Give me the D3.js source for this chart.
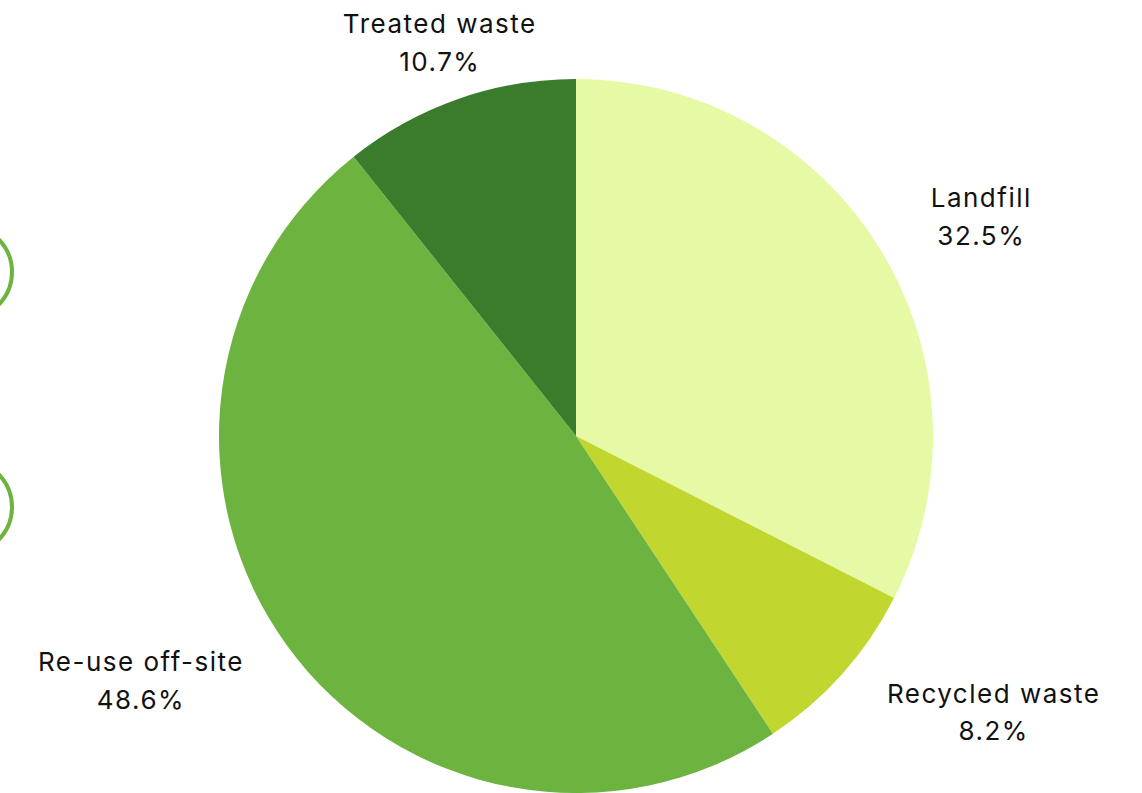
<!DOCTYPE html>
<html>
<head>
<meta charset="utf-8">
<script src="https://cdn.jsdelivr.net/npm/d3@7"></script>
<style>
  body { margin: 0; background: #fff; }
  svg { display: block; }
  text { font-family: 'Inter', sans-serif; fill: #111; letter-spacing: 1.5px; }
</style>
</head>
<body>
<svg width="1142" height="793"></svg>
<script>
// data
let categories = ['Landfill', 'Recycled waste', 'Re-use off-site', 'Treated waste'];
let shares = [32.5, 8.2, 48.6, 10.7];
let colors = ['#e6f9a4', '#c1d72f', '#6db33f', '#3a7c2c'];

let svg = d3.select('svg');
let width = +svg.attr('width');
let height = +svg.attr('height');
let cx = 576, cy = 436, radius = 357;

// decorative rings cut off at the left edge
svg.append('g')
  .selectAll('circle')
  .data([272, 507])
  .enter()
  .append('circle')
  .attr('cx', -35)
  .attr('cy', function(d) { return d; })
  .attr('r', 47)
  .attr('fill', 'none')
  .attr('stroke', '#6db33f')
  .attr('stroke-width', 4);

let slices = categories.map(function(c, i) {
  return { name: c, value: shares[i], color: colors[i] };
});

let pie = d3.pie()
  .sort(null)
  .value(function(d) { return d.value; });
let arc = d3.arc().innerRadius(0).outerRadius(radius);

let g = svg.append('g')
  .attr('transform', 'translate(' + cx + ',' + cy + ')');

let arcs = pie(slices);
g.selectAll('path')
  .data(arcs)
  .enter()
  .append('path')
  .attr('d', arc)
  .attr('fill', function(d) { return d.data.color; });

// label distance from centre, per slice
let labelDist = { 'Landfill': 460, 'Recycled waste': 500, 'Re-use off-site': 500, 'Treated waste': 416 };
let labelTurn = { 'Landfill': 3, 'Recycled waste': -8.2, 'Re-use off-site': 6.7, 'Treated waste': 0 };

let labels = g.selectAll('.lbl')
  .data(arcs)
  .enter()
  .append('text')
  .attr('class', 'lbl')
  .attr('text-anchor', 'middle')
  .attr('font-size', 26)
  .attr('transform', function(d) {
    let a = (d.startAngle + d.endAngle) / 2 + labelTurn[d.data.name] * Math.PI / 180;
    let r = labelDist[d.data.name];
    return 'translate(' + (r * Math.sin(a) + 1) + ',' + (-r * Math.cos(a) - 6) + ')';
  });
labels.append('tspan')
  .attr('x', 0)
  .attr('dy', '-0.15em')
  .text(function(d) { return d.data.name; });
labels.append('tspan')
  .attr('x', 0)
  .attr('dy', 38)
  .text(function(d) { return d.data.value.toFixed(1) + '%'; });
</script>
</body>
</html>
